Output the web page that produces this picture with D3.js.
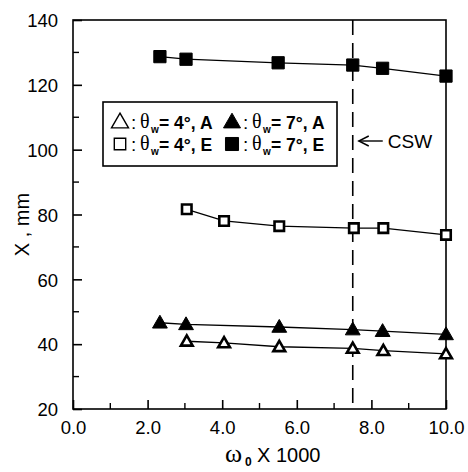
<!DOCTYPE html>
<html>
<head>
<meta charset="utf-8">
<script src="https://cdn.jsdelivr.net/npm/d3@7"></script>
<style>
  body { margin: 0; background: #fff; }
  text { font-family: "Liberation Sans", Arial, sans-serif; fill: #000; }
</style>
</head>
<body>
<div id="chart"></div>
<script>
// data
var omegaE7 = [2.33, 3.03, 5.5, 7.5, 8.3, 10.0];
var xE7 = [128.7, 127.9, 126.8, 126.1, 125.1, 122.7];
var omegaE4 = [3.05, 4.05, 5.53, 7.53, 8.32, 10.0];
var xE4 = [81.6, 78.0, 76.4, 75.8, 75.8, 73.7];
var omegaA7 = [2.33, 3.03, 5.53, 7.5, 8.3, 10.0];
var xA7 = [46.6, 46.1, 45.3, 44.5, 44.0, 43.0];
var omegaA4 = [3.05, 4.05, 5.53, 7.5, 8.32, 10.0];
var xA4 = [40.9, 40.4, 39.2, 38.7, 38.0, 37.0];
var xTicks = [0, 2, 4, 6, 8, 10];
var yTicks = [20, 40, 60, 80, 100, 120, 140];
var cswOmega = 7.5;

var serif = "'Liberation Serif', 'Times New Roman', 'DejaVu Serif', serif";

var svgWidth = 468, svgHeight = 472;
var margin = {top: 20, right: 22, bottom: 63, left: 73};
var width = svgWidth - margin.left - margin.right;
var height = svgHeight - margin.top - margin.bottom;

var svg = d3.select("#chart").append("svg")
  .attr("width", svgWidth)
  .attr("height", svgHeight);

var chartGroup = svg.append("g")
  .attr("transform", `translate(${margin.left}, ${margin.top})`);

var xScale = d3.scaleLinear().domain([0, 10]).range([0, width]);
var yScale = d3.scaleLinear().domain([20, 140]).range([height, 0]);

// frame
chartGroup.append("rect")
  .attr("width", width).attr("height", height)
  .attr("fill", "none").attr("stroke", "#000").attr("stroke-width", 1.6);

// axes with inward ticks
var bottomAxis = d3.axisBottom(xScale).tickValues(xTicks).tickSize(-9)
  .tickFormat(d3.format(".1f")).tickPadding(17);
var leftAxis = d3.axisLeft(yScale).tickValues(yTicks).tickSize(-9).tickPadding(15);

var gx = chartGroup.append("g").attr("transform", `translate(0, ${height})`).call(bottomAxis);
var gy = chartGroup.append("g").call(leftAxis);
[gx, gy].forEach(function(g) {
  g.select(".domain").remove();
  g.selectAll("line").attr("stroke", "#000").attr("stroke-width", 1.6);
  g.selectAll("text").style("font-size", "18.5px").attr("fill", "#000");
});
gy.selectAll("text").attr("dy", "0.36em");
gx.selectAll("text").attr("dy", "0.42em");

// minor ticks
chartGroup.append("g").selectAll("line")
  .data(d3.range(1, 10, 2)).enter().append("line")
  .attr("x1", d => xScale(d)).attr("x2", d => xScale(d))
  .attr("y1", height).attr("y2", height - 6)
  .attr("stroke", "#000").attr("stroke-width", 1.4);
chartGroup.append("g").selectAll("line")
  .data(d3.range(30, 140, 20)).enter().append("line")
  .attr("x1", 0).attr("x2", 6)
  .attr("y1", d => yScale(d)).attr("y2", d => yScale(d))
  .attr("stroke", "#000").attr("stroke-width", 1.4);

// CSW dashed line
chartGroup.append("line")
  .attr("x1", xScale(cswOmega)).attr("x2", xScale(cswOmega))
  .attr("y1", 0).attr("y2", height)
  .attr("stroke", "#000").attr("stroke-width", 1.6)
  .attr("stroke-dasharray", "15,8");

// series
var series = [
  {xs: omegaE7, ys: xE7, shape: d3.symbolSquare, filled: true},
  {xs: omegaE4, ys: xE4, shape: d3.symbolSquare, filled: false},
  {xs: omegaA7, ys: xA7, shape: d3.symbolTriangle, filled: true},
  {xs: omegaA4, ys: xA4, shape: d3.symbolTriangle, filled: false}
];

var line = d3.line().x(d => xScale(d[0])).y(d => yScale(d[1]));

series.forEach(function(s) {
  var pts = s.xs.map((x, i) => [x, s.ys[i]]);
  chartGroup.append("path").datum(pts)
    .attr("d", line).attr("fill", "none")
    .attr("stroke", "#000").attr("stroke-width", 1.3);
  var size = s.shape === d3.symbolSquare ? (s.filled ? 150 : 90) : (s.filled ? 95 : 60);
  chartGroup.selectAll(null).data(pts).enter().append("path")
    .attr("transform", d => `translate(${xScale(d[0])}, ${yScale(d[1]) + (s.shape === d3.symbolTriangle ? 1 : 0)})`)
    .attr("d", d3.symbol().type(s.shape).size(size))
    .attr("fill", s.filled ? "#000" : "#fff")
    .attr("stroke", "#000").attr("stroke-width", s.filled ? 1 : 2.6);
});

// legend
var legend = chartGroup.append("g").attr("transform", "translate(30, 82)");
legend.append("rect").attr("width", 234).attr("height", 64)
  .attr("fill", "#fff").attr("stroke", "#000").attr("stroke-width", 1.6);

var legendItems = [
  {shape: d3.symbolTriangle, filled: false, deg: "4", tag: "A", x: 17, y: 20},
  {shape: d3.symbolTriangle, filled: true, deg: "7", tag: "A", x: 129, y: 20},
  {shape: d3.symbolSquare, filled: false, deg: "4", tag: "E", x: 17, y: 42},
  {shape: d3.symbolSquare, filled: true, deg: "7", tag: "E", x: 129, y: 42}
];

legendItems.forEach(function(it) {
  var g = legend.append("g").attr("transform", `translate(${it.x}, ${it.y})`);
  var isSq = it.shape === d3.symbolSquare;
  g.append("path")
    .attr("transform", `translate(0, ${isSq ? 0 : 1})`)
    .attr("d", d3.symbol().type(it.shape).size(isSq ? (it.filled ? 170 : 130) : 125))
    .attr("fill", it.filled ? "#000" : "#fff")
    .attr("stroke", "#000").attr("stroke-width", it.filled ? 1 : 1.4);
  g.append("text").attr("x", 11).attr("y", 7).style("font-size", "19px").text(":");
  g.append("text").attr("x", 20).attr("y", 6)
    .style("font-family", serif).style("font-size", "20px").text("\u03b8");
  g.append("text").attr("x", 31).attr("y", 11)
    .style("font-size", "10px").style("font-weight", "bold").text("w");
  g.append("text").attr("x", 39).attr("y", 7)
    .style("font-size", "17.5px").style("font-weight", "bold")
    .text("= " + it.deg + "\u00b0, " + it.tag);
});

// CSW annotation
var ax = xScale(cswOmega);
chartGroup.append("line")
  .attr("x1", ax + 6).attr("x2", ax + 30).attr("y1", 121).attr("y2", 121)
  .attr("stroke", "#000").attr("stroke-width", 1.4);
chartGroup.append("path")
  .attr("d", `M${ax + 16},${116} L${ax + 6},${121} L${ax + 16},${126}`)
  .attr("fill", "none").attr("stroke", "#000").attr("stroke-width", 1.4);
chartGroup.append("text").attr("x", ax + 35).attr("y", 128)
  .style("font-size", "19px").text("CSW");

// axis titles
svg.append("text").attr("x", 225).attr("y", 462)
  .style("font-family", serif).style("font-size", "26px").text("\u03c9");
svg.append("text").attr("x", 245).attr("y", 466)
  .style("font-size", "12px").style("font-weight", "bold").text("0");
svg.append("text").attr("x", 257).attr("y", 462)
  .style("font-size", "20px").text("X 1000");

svg.append("text")
  .attr("transform", `translate(29, ${margin.top + height / 2 + 10}) rotate(-90)`)
  .attr("text-anchor", "middle")
  .style("font-size", "20px")
  .text("X , mm");
</script>
</body>
</html>
